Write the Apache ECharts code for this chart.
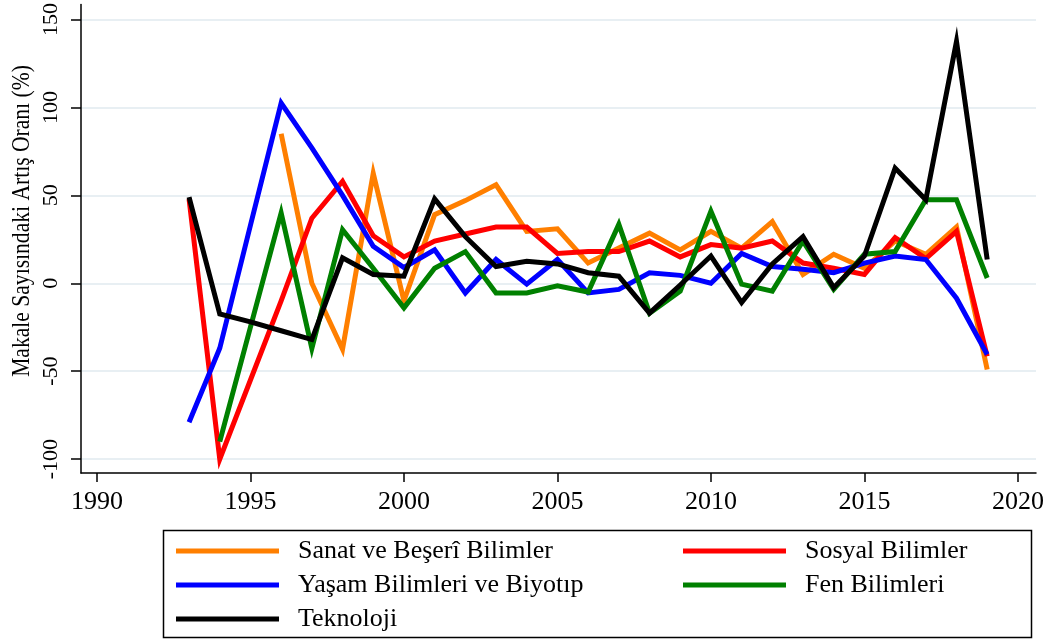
<!DOCTYPE html>
<html><head><meta charset="utf-8">
<script src="https://cdn.jsdelivr.net/npm/echarts@6/dist/echarts.min.js"></script>
<style>html,body{margin:0;padding:0;background:#fff}#c{width:1052px;height:644px}</style>
</head><body><div id="c"></div>
<script>
const years = [1993,1994,1995,1996,1997,1998,1999,2000,2001,2002,2003,2004,2005,2006,2007,2008,2009,2010,2011,2012,2013,2014,2015,2016,2017,2018,2019];
const sanat = [null,null,null,85,0,-37.5,62.5,-10,39,47,56,29.5,31,11.5,20,28.5,19,29.5,20,35,5,16.5,8.5,24,16.5,32,-49];
const sosyal = [48,-100,-55,-10,37,58,27,15,24,28,32,32,17,18,18,24,15,22,20,24,11.5,8.5,5,26,14,29.5,-41.5];
const yasam = [-79,-37,33,102.5,77,50,21,9,19,-5.5,13.5,-0.5,13.5,-5.5,-3.5,6,4.5,0,17,9.5,8,6,11.5,15.5,13.5,-8.5,-40.5];
const fen = [null,-90,-25,40,-37,30.5,8.5,-14,8.5,18,-5.5,-5.5,-1.5,-5,33.5,-17,-4.5,41,-0.5,-4.5,24,-3.5,16.5,18,47.5,47.5,3];
const teknoloji = [49,-17.5,-22,-27,-32,14.5,5,4,48,26.5,9.5,12.5,11,6,4,-17,-1,15.5,-11,11,26.5,-2.5,15.5,65.5,47.5,137.5,13.5];
const names = ['Sanat ve Beşerî Bilimler','Sosyal Bilimler','Yaşam Bilimleri ve Biyotıp','Fen Bilimleri','Teknoloji'];
const xTicks = [1990,1995,2000,2005,2010,2015,2020];
const yTicks = [-100,-50,0,50,100,150];
const yTitle = 'Makale Sayısındaki Artış Oranı (%)';

const colors = ['#ff7f00','#ff0000','#0000ff','#008000','#000000'];
const allData = [sanat, sosyal, yasam, fen, teknoloji];
const font = 'Liberation Serif';

const chart = echarts.init(document.getElementById('c'), null, {renderer:'canvas'});
const series = allData.map((arr,i)=>({
  name: names[i], type:'line', symbol:'none', connectNulls:false,
  lineStyle:{width:5,color:colors[i],join:'miter'}, itemStyle:{color:colors[i]},
  data: years.map((y,k)=>[y, arr[k]]),
  animation:false, z: 2+i
}));
const legendCommon = {orient:'vertical', icon:'rect', itemWidth:103, itemHeight:5, itemGap:8, padding:0,
  textStyle:{fontFamily:font,fontSize:26,color:'#000',lineHeight:26,padding:[0,0,0,14]}, selectedMode:false};
chart.setOption({
  animation:false,
  grid:{left:81,right:16,top:3,bottom:171,containLabel:false},
  xAxis:{type:'value',min:1989.48,max:2020.59,
    axisLine:{show:true,onZero:false,lineStyle:{color:'#000',width:1.5}},
    axisTick:{show:true,length:9,customValues:xTicks,lineStyle:{color:'#000',width:1.5}},
    axisLabel:{customValues:xTicks,margin:16,fontFamily:font,fontSize:26,color:'#000',formatter:v=>String(v)},
    splitLine:{show:false}},
  yAxis:{type:'value',min:-107.9,max:158.5,
    axisLine:{show:true,onZero:false,lineStyle:{color:'#000',width:1.5}},
    axisTick:{show:true,length:10,customValues:yTicks,lineStyle:{color:'#000',width:1.5}},
    axisLabel:{customValues:yTicks,rotate:90,margin:19,fontFamily:font,fontSize:22,color:'#000',formatter:v=>String(v)},
    splitLine:{show:true,lineStyle:{color:'#e8eff3',width:2}}},
  legend:[
    Object.assign({data:[names[0],names[2],names[4]],left:176,top:538},legendCommon),
    Object.assign({data:[names[1],names[3]],left:683,top:538},legendCommon)
  ],
  graphic:[
    {type:'rect',shape:{x:163.5,y:530.5,width:868,height:107},style:{fill:'none',stroke:'#000',lineWidth:1.5},z:-1},
    {type:'text',x:22,y:221,rotation:Math.PI/2,scaleX:0.83,style:{text:yTitle,fontFamily:font,fontSize:26,fill:'#000',align:'center',verticalAlign:'middle'}}
  ],
  series
});
</script></body></html>
